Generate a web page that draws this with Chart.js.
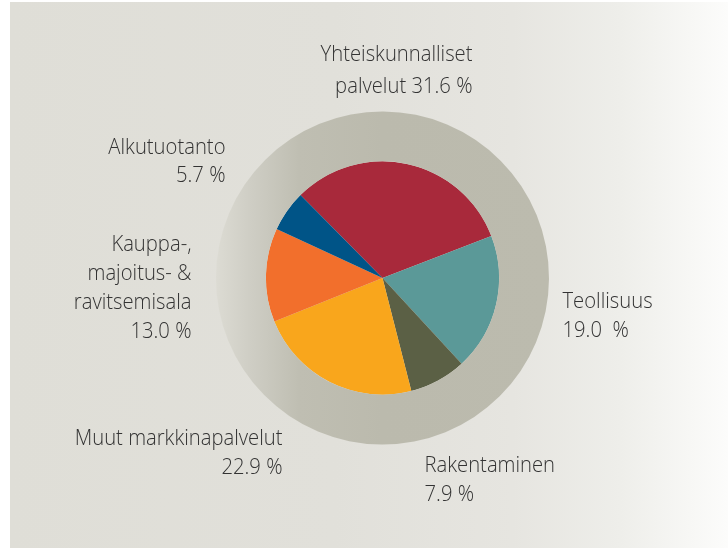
<!DOCTYPE html>
<html>
<head>
<meta charset="utf-8">
<script src="https://cdn.jsdelivr.net/npm/chart.js@4.4.1/dist/chart.umd.min.js"></script>
<style>
  html, body { margin:0; padding:0; background:#fff; }
  #panel {
    position:absolute; left:10px; top:2px; width:718px; height:546px;
    background: linear-gradient(to right, #dfded7 0%, #e1e0da 45%, #e6e5e0 70%, #eeeeea 85%, #fcfcfb 100%);
  }
  #wrap { position:absolute; left:0; top:0; width:728px; height:550px; }
</style>
</head>
<body>
<div id="panel"></div>
<div id="wrap"><canvas id="chart" width="728" height="550"></canvas></div>
<script>
// Data (clockwise from the red slice)
const categories = ["Yhteiskunnalliset palvelut", "Teollisuus", "Rakentaminen", "Muut markkinapalvelut", "Kauppa-, majoitus- & ravitsemisala", "Alkutuotanto"];
const shares     = [31.6, 19.0, 7.9, 22.9, 13.0, 5.7];
const sliceColors = ["#a8293b", "#5b9998", "#5b6045", "#f9a61c", "#f26f2c", "#005487"];

// Label text, {v} gets the share
const labelLines = [
  ["Yhteiskunnalliset", "palvelut {v} %"],
  ["Teollisuus", "{v}  %"],
  ["Rakentaminen", "{v} %"],
  ["Muut markkinapalvelut", "{v} %"],
  ["Kauppa-,", "majoitus- &", "ravitsemisala", "{v} %"],
  ["Alkutuotanto", "{v} %"]
];
// Label anchors relative to pie centre (first baseline)
const labelPlace = [
  { dx:  90, dy: -217, align: "right", lh: 32 },
  { dx: 180, dy:   30, align: "left",  lh: 29 },
  { dx:  42, dy:  194, align: "left",  lh: 29 },
  { dx: -100, dy: 167, align: "right", lh: 29 },
  { dx: -191, dy: -27, align: "right", lh: 29 },
  { dx: -157, dy: -124, align: "right", lh: 28 }
];

const fmt = v => v.toFixed(1);
const SQUEEZE = 0.92; // narrow the text like the condensed original

// gradient for the outer grey ring
function ringFill(ctx) {
  const chart = ctx.chart;
  const a = chart.chartArea;
  if (!a) return "#bcbbae";
  const g = chart.ctx.createLinearGradient(a.left, 0, a.right, 0);
  g.addColorStop(0.00, "#dcdbd3");
  g.addColorStop(0.10, "#cfcec5");
  g.addColorStop(0.25, "#bfbeb2");
  g.addColorStop(0.50, "#bbbaad");
  g.addColorStop(1.00, "#bcbbae");
  return g;
}

const labelPlugin = {
  id: "sliceLabels",
  afterDraw(chart) {
    const meta = chart.getDatasetMeta(1);
    if (!meta.data.length) return;
    const cx = meta.data[0].x, cy = meta.data[0].y;
    const ctx = chart.ctx;
    ctx.save();
    ctx.fillStyle = "#333333";
    ctx.font = "300 22px 'Open Sans'";
    ctx.textBaseline = "alphabetic";
    labelLines.forEach((lines, i) => {
      const p = labelPlace[i];
      ctx.textAlign = p.align;
      lines.forEach((ln, j) => {
        ctx.save();
        ctx.translate(cx + p.dx, cy + p.dy + j * p.lh);
        ctx.scale(SQUEEZE, 1);
        ctx.fillText(ln.replace("{v}", fmt(shares[i])), 0, 0);
        ctx.restore();
      });
    });
    ctx.restore();
  }
};

new Chart(document.getElementById("chart"), {
  type: "pie",
  data: {
    labels: categories,
    datasets: [
      { data: [100], backgroundColor: ringFill, borderWidth: 0, weight: 50 / 117 },
      { data: shares, backgroundColor: sliceColors, borderWidth: 0, weight: 1 }
    ]
  },
  options: {
    responsive: false,
    animation: false,
    events: [],
    rotation: -44.7,
    layout: { padding: { top: 111, bottom: 105, left: 216, right: 179 } },
    plugins: { legend: { display: false }, tooltip: { enabled: false } }
  },
  plugins: [labelPlugin]
});
</script>
</body>
</html>
